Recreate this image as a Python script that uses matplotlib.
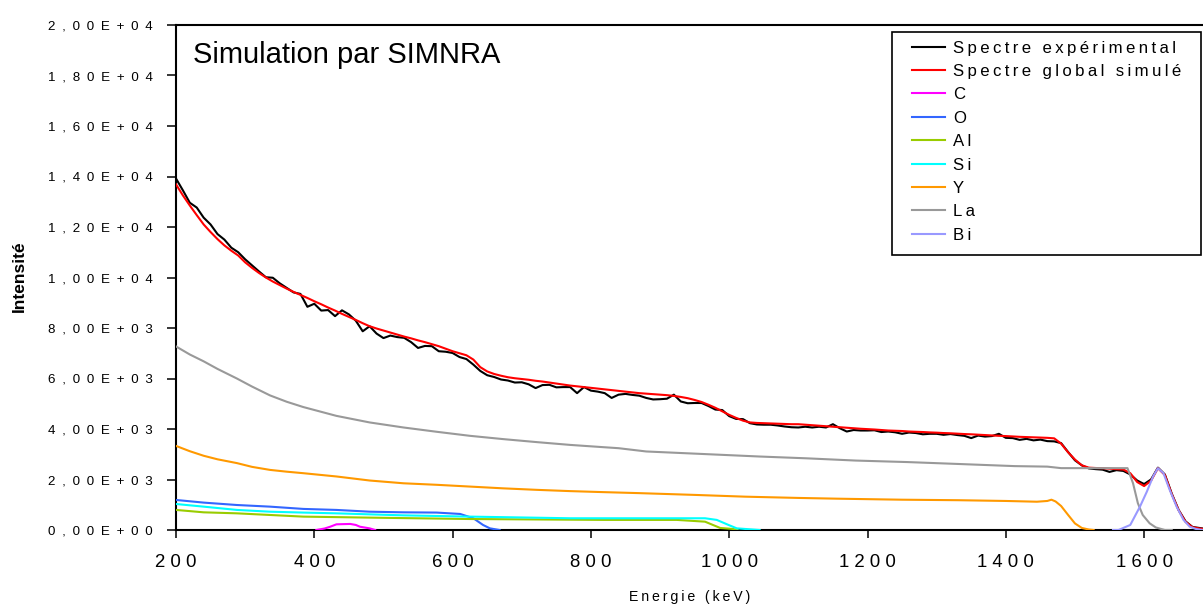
import matplotlib
matplotlib.use("Agg")
import matplotlib.pyplot as plt
from matplotlib.ticker import FuncFormatter, FixedLocator
from matplotlib.patches import Rectangle

plt.rcParams['font.family'] = ['Liberation Sans', 'DejaVu Sans']

# ---------------- data ----------------
energy_grid = list(range(200, 1700, 10))  # channel energies (keV), 10 keV step

experimental = [
    13920, 13450, 12960, 12770, 12370, 12100, 11720, 11500, 11180, 11000,
    10720, 10480, 10240, 10010, 9990, 9770, 9590, 9410, 9350, 8840,
    8960, 8690, 8710, 8470, 8700, 8540, 8290, 7870, 8070, 7780,
    7600, 7700, 7640, 7610, 7440, 7210, 7290, 7280, 7080, 7060,
    7010, 6850, 6770, 6550, 6300, 6130, 6060, 5960, 5920, 5840,
    5850, 5770, 5620, 5740, 5750, 5650, 5660, 5660, 5420, 5660,
    5520, 5480, 5420, 5230, 5360, 5390, 5350, 5320, 5230, 5170,
    5180, 5200, 5360, 5090, 5020, 5030, 5030, 4910, 4770, 4750,
    4510, 4400, 4390, 4230, 4180, 4170, 4170, 4140, 4100, 4070,
    4060, 4090, 4060, 4090, 4060, 4190, 4030, 3900, 3960, 3940,
    3940, 3950, 3880, 3900, 3870, 3810, 3860, 3840, 3790, 3810,
    3810, 3770, 3800, 3760, 3730, 3640, 3740, 3700, 3720, 3810,
    3650, 3640, 3570, 3610, 3550, 3580, 3520, 3510, 3440, 3090,
    2760, 2560, 2440, 2410, 2390, 2300, 2370, 2340, 2200, 1960,
    1820, 2000, 2470, 2200, 1440, 790, 340, 120, 80, 40,
]

simulated = [
    13690, 13250, 12850, 12470, 12100, 11800, 11520, 11270, 11060, 10870,
    10600, 10380, 10180, 10000, 9840, 9700, 9560, 9430, 9310, 9190,
    9060, 8940, 8810, 8690, 8560, 8440, 8320, 8190, 8070, 7980,
    7900, 7820, 7740, 7660, 7590, 7510, 7440, 7360, 7280, 7180,
    7080, 7000, 6920, 6750, 6450, 6280, 6180, 6110, 6050, 6010,
    5980, 5950, 5910, 5880, 5840, 5800, 5760, 5720, 5690, 5660,
    5630, 5600, 5570, 5540, 5510, 5480, 5450, 5420, 5400, 5380,
    5360, 5340, 5310, 5270, 5220, 5150, 5070, 4960, 4840, 4700,
    4560, 4440, 4330, 4260, 4240, 4230, 4220, 4210, 4200, 4190,
    4190, 4170, 4150, 4130, 4110, 4090, 4070, 4050, 4030, 4010,
    3995, 3980, 3960, 3940, 3930, 3920, 3900, 3890, 3880, 3865,
    3855, 3840, 3830, 3815, 3800, 3790, 3775, 3760, 3745, 3730,
    3720, 3705, 3690, 3680, 3670, 3660, 3650, 3630, 3420, 3080,
    2790, 2560, 2470, 2455, 2445, 2430, 2410, 2395, 2250, 1900,
    1740, 1950, 2450, 2180, 1420, 780, 320, 110, 60, 30,
]

c_energy = [403, 415, 423, 432, 452, 460, 466, 480, 488]
c_counts = [0, 60, 130, 225, 240, 200, 130, 65, 0]

o_energy = [200, 240, 288, 336, 384, 432, 480, 529, 577, 611, 630, 644, 654, 668]
o_counts = [1190, 1085, 990, 925, 835, 795, 725, 700, 690, 635, 465, 200, 65, 0]

al_energy = [200, 240, 288, 336, 384, 480, 625, 818, 924, 965, 980, 987, 1006, 1012]
al_counts = [795, 700, 660, 595, 530, 490, 435, 400, 400, 330, 160, 80, 40, 0]

si_energy = [200, 240, 288, 336, 384, 432, 480, 529, 625, 770, 965, 982, 999, 1011, 1044]
si_counts = [1030, 925, 795, 725, 690, 660, 620, 580, 530, 465, 465, 400, 200, 65, 0]

y_energy = [200, 220, 240, 260, 288, 310, 336, 360, 384, 432, 480, 529, 577, 625,
            673, 722, 770, 818, 870, 950, 1023, 1100, 1157, 1250, 1331, 1400, 1445,
            1460, 1466, 1472, 1480, 1490, 1500, 1510, 1520, 1527]
y_counts = [3330, 3120, 2940, 2800, 2650, 2500, 2380, 2310, 2250, 2120, 1960, 1850, 1790, 1720,
            1650, 1590, 1540, 1500, 1460, 1390, 1320, 1270, 1240, 1200, 1180, 1150, 1120,
            1150, 1200, 1130, 950, 600, 260, 80, 20, 0]

la_energy = [200, 220, 240, 260, 288, 310, 336, 360, 384, 432, 480, 529, 577, 625, 673,
             722, 770, 818, 840, 880, 958, 1044, 1111, 1183, 1258, 1336, 1413, 1460,
             1480, 1576, 1584, 1591, 1598, 1608, 1617, 1630, 1640]
la_counts = [7270, 6950, 6680, 6380, 6000, 5680, 5330, 5080, 4870, 4520, 4260, 4060, 3890,
             3730, 3600, 3480, 3370, 3280, 3240, 3110, 3015, 2910, 2840, 2750, 2690, 2610,
             2530, 2510, 2450, 2450, 1850, 1060, 595, 265, 100, 0, 0]

bi_energy = [1555, 1563, 1580, 1594, 1604, 1613, 1620, 1628, 1637, 1647, 1657, 1666, 1675, 1685]
bi_counts = [0, 0, 200, 925, 1520, 2120, 2450, 2250, 1590, 925, 400, 130, 40, 0]

x_ticks = [200, 400, 600, 800, 1000, 1200, 1400, 1600]
y_ticks = [0, 2000, 4000, 6000, 8000, 10000, 12000, 14000, 16000, 18000, 20000]

legend_labels = ["Spectre expérimental", "Spectre global simulé", "C", "O", "Al",
                 "Si", "Y", "La", "Bi"]
colors = ["#000000", "#FF0000", "#FF00FF", "#3366FF", "#99CC00",
          "#00FFFF", "#FF9900", "#999999", "#9999FF"]

# ---------------- figure ----------------
W, H = 1203, 610
fig = plt.figure(figsize=(W / 100, H / 100), dpi=100)
x_left, y_bottom, y_top = 176, 530, 25
px_per_kev = 0.6915
x_max = 1700
ax = fig.add_axes([x_left / W, (H - y_bottom) / H,
                   (x_max - 200) * px_per_kev / W, (y_bottom - y_top) / H])


def spaced(s, sep):
    return sep.join(s)


series = [
    (energy_grid, experimental),
    (energy_grid, simulated),
    (c_energy, c_counts),
    (o_energy, o_counts),
    (al_energy, al_counts),
    (si_energy, si_counts),
    (y_energy, y_counts),
    (la_energy, la_counts),
    (bi_energy, bi_counts),
]
handles = []
for i, ((xs, ys), col) in enumerate(zip(series, colors)):
    ln, = ax.plot(xs, ys, color=col, lw=1.5, zorder=2 + i, solid_joinstyle='round')
    handles.append(ln)

ax.set_xlim(200, x_max)
ax.set_ylim(0, 20000)
ax.xaxis.set_major_locator(FixedLocator(x_ticks))
ax.yaxis.set_major_locator(FixedLocator(y_ticks))
ax.xaxis.set_major_formatter(FuncFormatter(lambda v, p: spaced(str(int(v)), ' ')))
ax.yaxis.set_major_formatter(FuncFormatter(
    lambda v, p: spaced(f"{v:.2E}".replace('.', ','), '\u2002')))
ax.tick_params(axis='y', direction='out', length=6.5, width=1.1, pad=10.5,
               labelsize=9.6, colors='black')
ax.tick_params(axis='x', direction='out', length=5.5, width=1.1, pad=12,
               labelsize=13.4, colors='black')
for side in ['left', 'bottom', 'top']:
    ax.spines[side].set_linewidth(1.5)
    ax.spines[side].set_color('black')
ax.spines['right'].set_visible(False)

# title inside plot
fig.text(193 / W, 1 - 63 / H, "Simulation par SIMNRA", fontsize=21,
         ha='left', va='baseline')

# axis labels
fig.text(690 / W, 1 - 597 / H, spaced("Energie (keV)", '\u2009'), fontsize=10.2,
         ha='center', va='center')
fig.text(19 / W, 1 - 276 / H, "Intensité", rotation=90, fontsize=12.5,
         fontweight='bold', ha='center', va='center')

# legend with a square frame
leg = ax.legend(handles, [spaced(l, '\u2009') for l in legend_labels],
                loc='upper left', bbox_to_anchor=(911.7 / W, 1 - 40.5 / H),
                bbox_transform=fig.transFigure, frameon=False, fontsize=12.1,
                handlelength=2.0, handletextpad=0.46, labelspacing=0.5,
                borderpad=0, borderaxespad=0)
leg.set_zorder(20)
fig.add_artist(Rectangle((892 / W, 1 - 255 / H), (1201 - 892) / W, (255 - 31.7) / H,
                         transform=fig.transFigure, fill=False, ec='black', lw=1.2,
                         zorder=21))

fig.savefig("out.png", dpi=100)
